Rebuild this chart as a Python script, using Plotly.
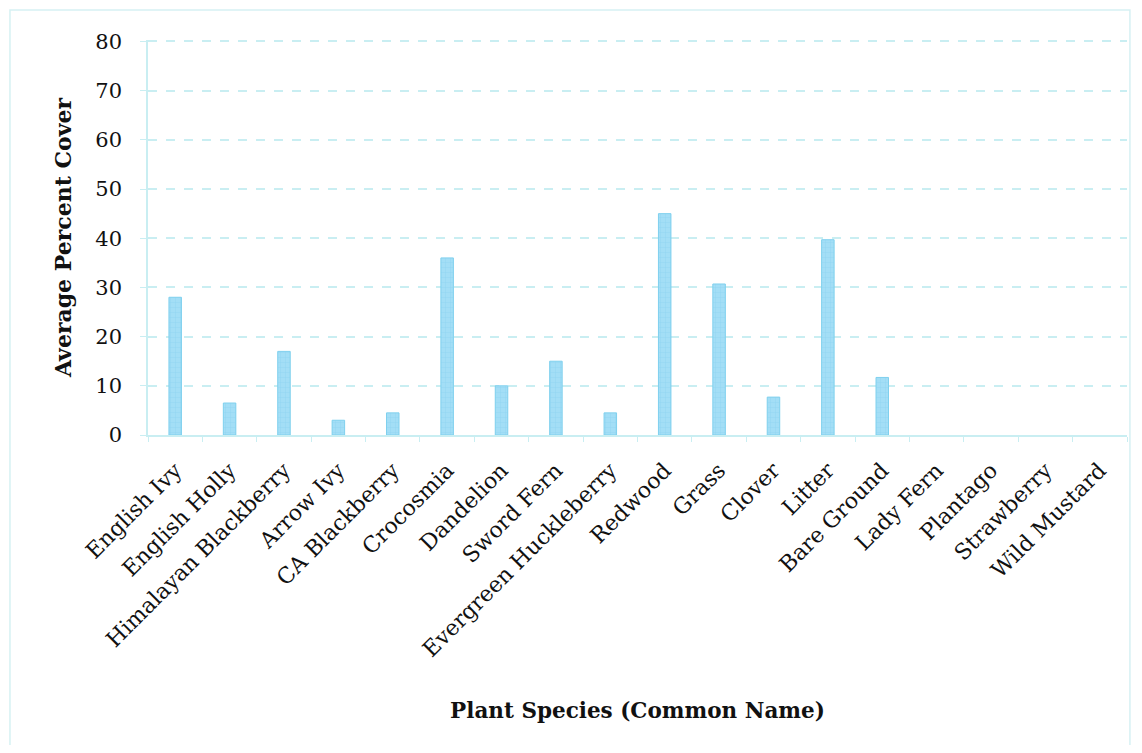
import plotly.graph_objects as go

species = ["English Ivy", "English Holly", "Himalayan Blackberry", "Arrow Ivy", "CA Blackberry",
           "Crocosmia", "Dandelion", "Sword Fern", "Evergreen Huckleberry", "Redwood", "Grass",
           "Clover", "Litter", "Bare Ground", "Lady Fern", "Plantago", "Strawberry", "Wild Mustard"]
cover = [28, 6.5, 17, 3, 4.5, 36, 10, 15, 4.5, 45, 30.7, 7.7, 39.7, 11.7, 0, 0, 0, 0]
y_ticks = [0, 10, 20, 30, 40, 50, 60, 70, 80]

font_family = "DejaVu Serif, Liberation Serif, serif"
grid_col = "#c9eef2"

fig = go.Figure(go.Bar(
    x=species, y=cover, width=0.23,
    marker=dict(color="#a3def6",
                line=dict(color="#7fd0ee", width=[1 if v > 0 else 0 for v in cover]),
                pattern=dict(shape="+", fgcolor="#74c8ea", size=5, solidity=0.15)),
))

W, H = 1126, 737
fig.update_layout(
    width=W, height=H,
    margin=dict(l=140, r=W - 1119, t=32, b=H - 427, autoexpand=False),
    paper_bgcolor="white", plot_bgcolor="white",
    font=dict(family=font_family, color="#111111"),
    showlegend=False,
    xaxis=dict(
        tickangle=-45, tickfont=dict(size=22, family=font_family),
        showgrid=False, showline=True, linecolor=grid_col, linewidth=1.5,
        ticks="outside", ticklen=5, tickcolor=grid_col, tickson="boundaries",
        ticklabelstandoff=12,
        title=dict(text="<b>Plant Species (Common Name)</b>", font=dict(size=21.5, family=font_family), standoff=42),
    ),
    yaxis=dict(
        range=[0, 80.3], tickvals=y_ticks, tickfont=dict(size=21, family=font_family),
        showgrid=True, gridcolor=grid_col, gridwidth=1.5, griddash="dash",
        showline=True, linecolor=grid_col, linewidth=1.5, ticklabelstandoff=14,
        ticks="outside", ticklen=6, tickcolor=grid_col, zeroline=False,
        title=dict(text="<b>Average Percent Cover</b>", font=dict(size=22, family=font_family), standoff=18),
    ),
)

# outer chart border
fig.add_shape(type="rect", xref="paper", yref="paper",
              x0=-0.141, x1=1.003, y0=-0.8, y1=1.076,
              line=dict(color="#d6f1f3", width=1.5), fillcolor="rgba(0,0,0,0)", layer="below")

fig.write_html("out.html")
